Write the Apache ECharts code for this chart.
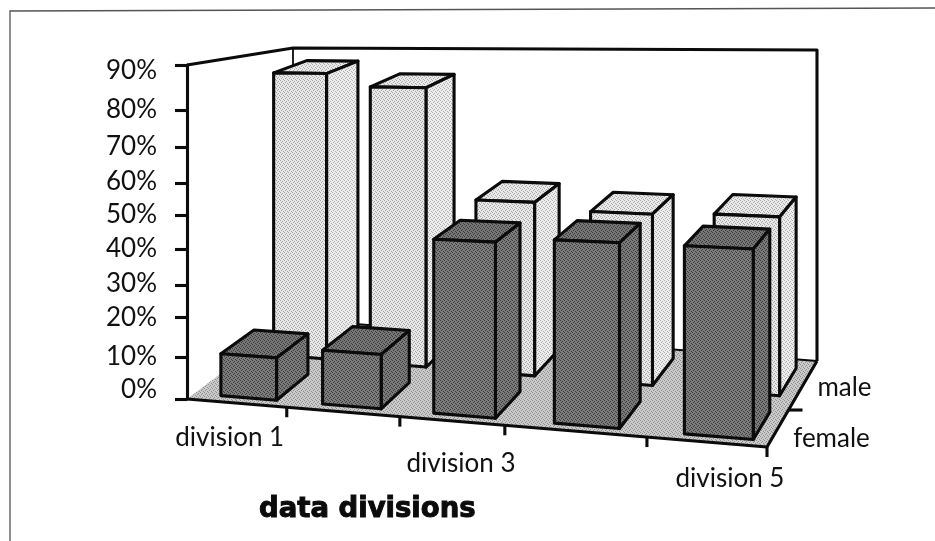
<!DOCTYPE html>
<html>
<head>
<meta charset="utf-8">
<style>html,body{margin:0;padding:0;background:#fff}#chart{width:935px;height:541px}</style>
<script src="https://cdn.jsdelivr.net/npm/echarts@6/dist/echarts.min.js"></script>
</head>
<body>
<div id="chart"></div>
<script>
// Chart content
const categories = ['division 1', 'division 2', 'division 3', 'division 4', 'division 5'];
const maleValues = [83.4, 80.4, 47.7, 45.7, 46.5];
const femaleValues = [10, 12.7, 45, 46.4, 46.4];
const yTickLabels = ['0%', '10%', '20%', '30%', '40%', '50%', '60%', '70%', '80%', '90%'];
const rowNames = ['female', 'male'];
const axisTitle = 'data divisions';

// The printed value axis is slightly uneven: where each percent tick and label sits on the 0-90 scale
const tickStops = [0, 11.3, 22.1, 30.7, 40.4, 49.6, 58.2, 67.9, 77.9, 90];
const labelStops = [2.4, 11.3, 21.8, 31, 40.4, 49.6, 58.5, 67.9, 77.9, 88.4];
// Where the category ticks fall along the front edge of the floor
const floorTickStops = [0.172, 0.367, 0.548, 0.793, 1];

// Corners of the 3D box: u runs along the front edge, d runs into the page
const floorCorners = { fl: [187, 399], fr: [767, 447], bl: [293, 319], br: [817, 361] };
const barCeiling = { fl: [187, 65], fr: [767, 72], bl: [293, 31], br: [817, 32] };
const wallTop = { left: [187, 65], back: [293, 48], right: [817, 50] };
const rowDepth = { female: 0.07, male: 0.58 };
const barDepth = 0.32;

const lerp = (a, b, t) => a + (b - a) * t;
const bilerp = (q, u, d, k) => lerp(lerp(q.fl[k], q.fr[k], u), lerp(q.bl[k], q.br[k], u), d);
function project(u, d, h) {
  return [
    lerp(bilerp(floorCorners, u, d, 0), bilerp(barCeiling, u, d, 0), h),
    lerp(bilerp(floorCorners, u, d, 1), bilerp(barCeiling, u, d, 1), h)
  ];
}
// Divisions get wider towards the right of the floor
const stretch = u => Math.min(1, u + 0.208 * u * u - 0.188 * u + 0.011);

// Piecewise scale so a value lines up with the uneven ticks
function scaled(v) {
  const i = Math.min(Math.floor(v / 10), tickStops.length - 2);
  return lerp(tickStops[i], tickStops[i + 1], v / 10 - i);
}

// Halftone fill used by the shaded faces
function stipple(lo, hi) {
  const c = document.createElement('canvas');
  c.width = c.height = 4;
  const g = c.getContext('2d');
  g.fillStyle = hi;
  g.fillRect(0, 0, 4, 4);
  g.fillStyle = lo;
  [[0, 0], [2, 1], [1, 2], [3, 3]].forEach(p => g.fillRect(p[0], p[1], 1, 1));
  return { image: c, repeat: 'repeat' };
}
const fills = {
  male: { front: stipple('#a4a4a4', '#e8e8e8'), side: stipple('#b0b0b0', '#ededed'), top: stipple('#aaaaaa', '#e9e9e9') },
  female: { front: stipple('#3c3c3c', '#7c7c7c'), side: stipple('#3c3c3c', '#7a7a7a'), top: stipple('#3a3a3a', '#767676') },
  floor: stipple('#8e8e8e', '#cacaca')
};

const INK = '#0b0b0b';
const LINE = 3.1;
const poly = (points, fill) => ({
  type: 'polygon',
  shape: { points },
  style: { fill, stroke: INK, lineWidth: LINE, lineJoin: 'round' }
});
const seg = (points, lineWidth) => ({
  type: 'polyline',
  shape: { points },
  style: { fill: 'none', stroke: INK, lineWidth: lineWidth || LINE, lineJoin: 'round' }
});
const label = (text, x, y) => ({
  type: 'text',
  style: { text, x, y, fill: '#111', font: '400 26px Lato', textAlign: 'center', textVerticalAlign: 'middle' }
});

// One box for a bar in the given depth row
function barRenderer(row) {
  return function (params, api) {
    const cs = params.coordSys;
    const pt = api.coord([api.value(0), scaled(api.value(1))]);
    const u = stretch((pt[0] - cs.x) / cs.width);
    const h = (cs.y + cs.height - pt[1]) / cs.height;
    const w = (api.size([1, 0])[0] / cs.width) * (0.47 + 0.14 * u);
    const u0 = u - w / 2, u1 = u + w / 2, d0 = rowDepth[row], d1 = d0 + barDepth;
    return {
      type: 'group',
      children: [
        poly([project(u0, d0, h), project(u1, d0, h), project(u1, d1, h), project(u0, d1, h)], fills[row].top),
        poly([project(u1, d0, 0), project(u1, d0, h), project(u1, d1, h), project(u1, d1, 0)], fills[row].side),
        poly([project(u0, d0, 0), project(u1, d0, 0), project(u1, d0, h), project(u0, d0, h)], fills[row].front)
      ]
    };
  };
}

// Floor, back walls, axis ticks and the staggered category and row labels
const categoryNudge = { 0: [-12, 34], 2: [2, 42], 4: [15, 36] };
function renderBox() {
  const kids = [
    { type: 'polygon', shape: { points: [project(0, 0, 0), project(1, 0, 0), project(1, 1, 0), project(0, 1, 0)] }, style: { fill: fills.floor } },
    seg([wallTop.left, wallTop.back, wallTop.right, project(1, 1, 0)]),
    seg([wallTop.back, project(0, 1, 0), project(1, 1, 0)], 1.8),
    seg([project(0, 0, 0), project(1, 0, 0), project(1, 1, 0)])
  ];
  categories.forEach((name, i) => {
    const t = project(floorTickStops[i], 0, 0);
    kids.push(seg([t, [t[0], t[1] + 10]]));
    if (categoryNudge[i]) {
      const a = project(stretch((i + 0.5) / categories.length), 0, 0);
      kids.push(label(name, a[0] + categoryNudge[i][0], a[1] + categoryNudge[i][1]));
    }
  });
  const mid = project(1, 0.43, 0);
  kids.push(seg([mid, [mid[0] + 14, mid[1]]]));
  const fr = project(1, 0.25, 0), br = project(1, 0.75, 0);
  kids.push(label(rowNames[0], fr[0] + 52, fr[1] + 13));
  kids.push(label(rowNames[1], br[0] + 40, br[1] + 5));
  return { type: 'group', children: kids };
}

const chart = echarts.init(document.getElementById('chart'), null, { renderer: 'canvas' });
chart.setOption({
  animation: false,
  backgroundColor: '#fff',
  title: {
    text: axisTitle,
    left: 259,
    top: 496,
    padding: 0,
    textStyle: {
      fontFamily: 'DejaVu Sans',
      fontWeight: 'bold',
      fontSize: 27.5,
      color: '#0b0b0b',
      textBorderColor: '#0b0b0b',
      textBorderWidth: 1
    }
  },
  grid: { left: 187, top: 65, width: 580, height: 334 },
  xAxis: {
    type: 'category',
    data: categories,
    axisLine: { show: false },
    axisTick: { show: false },
    axisLabel: { show: false }
  },
  yAxis: {
    type: 'value',
    min: 0,
    max: 90,
    splitLine: { show: false },
    axisLine: { show: true, lineStyle: { color: INK, width: LINE } },
    axisTick: { show: true, length: 12, customValues: tickStops, lineStyle: { color: INK, width: LINE } },
    axisLabel: {
      margin: 30,
      customValues: labelStops,
      fontFamily: 'Lato',
      fontSize: 26,
      color: '#111',
      formatter: v => yTickLabels[labelStops.indexOf(v)]
    }
  },
  // Thin border of the page the chart sits on
  graphic: [{
    type: 'polyline',
    silent: true,
    shape: { points: [[10, 541], [10, 11], [935, 8]] },
    style: { fill: 'none', stroke: '#555', lineWidth: 1.3 }
  }],
  series: [
    { name: 'box', type: 'custom', coordinateSystem: 'cartesian2d', renderItem: renderBox, data: [[0, 0]], clip: false, silent: true, z: 1 },
    { name: 'male', type: 'custom', coordinateSystem: 'cartesian2d', renderItem: barRenderer('male'), data: maleValues.map((v, i) => [i, v]), clip: false, z: 2 },
    { name: 'female', type: 'custom', coordinateSystem: 'cartesian2d', renderItem: barRenderer('female'), data: femaleValues.map((v, i) => [i, v]), clip: false, z: 3 }
  ]
});
</script>
</body>
</html>
